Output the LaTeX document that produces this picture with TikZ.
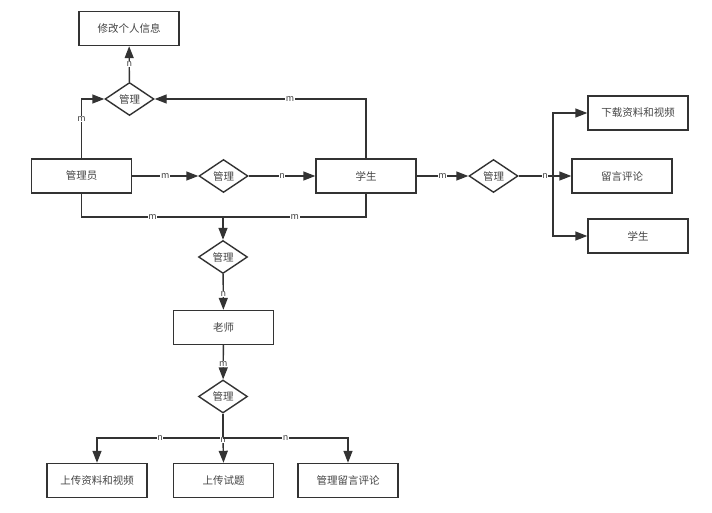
\documentclass[tikz,border=0pt]{standalone}
\usepackage{fontspec}
\setmainfont{Noto Sans CJK SC}
\usetikzlibrary{shapes.geometric,arrows.meta}
\definecolor{lc}{HTML}{333333}
\definecolor{tc}{HTML}{444444}
\begin{document}
\begin{tikzpicture}[x=1pt,y=-1pt,
  box/.style={draw=lc, line width=1.4pt, minimum width=100pt, minimum height=34pt, inner sep=0pt, font=\fontsize{10.5}{12}\selectfont, text=tc},
  rel/.style={draw=lc, diamond, line width=1.4pt, minimum width=49pt, minimum height=33pt, inner sep=0pt, font=\fontsize{10.5}{12}\selectfont, text=tc},
  conn/.style={draw=lc, line width=1.4pt, -{Triangle[length=12pt,width=9pt]}},
  plain/.style={draw=lc, line width=1.4pt},
  lab/.style={fill=white, inner sep=0.6pt, font=\fontsize{9}{10}\selectfont, text=tc}]
\useasboundingbox (0,0) rectangle (712,512);
% nodes
\node[box] (info) at (129,28.5) {修改个人信息};
\node[rel] (d1) at (129.5,99) {管理};
\node[box] (admin) at (81.5,176) {管理员};
\node[rel] (d2) at (223.5,176) {管理};
\node[box] (stu) at (366,176) {学生};
\node[rel] (d3) at (223,257) {管理};
\node[box] (teacher) at (223.5,327.5) {老师};
\node[rel] (d4) at (223,396.5) {管理};
\node[box] (up1) at (97,480.5) {上传资料和视频};
\node[box] (up2) at (223.5,480.5) {上传试题};
\node[box] (up3) at (348,480.5) {管理留言评论};
\node[rel] (d5) at (493.5,176) {管理};
\node[box] (dl) at (638,113) {下载资料和视频};
\node[box] (msg) at (622,176) {留言评论};
\node[box] (stu2) at (638,236) {学生};
% junctions
\coordinate (jL) at (81.5,217);
\coordinate (jR) at (366,217);
\coordinate (jM) at (223,217);
\coordinate (jB) at (223,438);
\coordinate (j5) at (553,176);
% connectors
\draw[conn] (d1) -- node[lab]{n} (info);
\draw[conn] (admin.north) |- node[lab,pos=0.33]{m} (d1.west);
\draw[conn] (stu.north) |- node[lab,pos=0.68]{m} (d1.east);
\draw[conn] (admin) -- node[lab]{m} (d2);
\draw[conn] (d2) -- node[lab]{n} (stu);
\draw[plain] (admin.south) -- (jL) -- node[lab,pos=0.25]{m} node[lab,pos=0.75]{m} (jR) -- (stu.south);
\draw[conn] (jM) -- (d3.north);
\draw[conn] (d3) -- node[lab,pos=0.55]{n} (teacher);
\draw[conn] (teacher) -- node[lab,pos=0.55]{m} (d4);
\draw[plain] (d4.south) -- (jB);
\draw[conn] (jB) -| node[lab,pos=0.25]{n} (up1.north);
\draw[conn] (jB) -- node[lab,pos=0.08]{n} (up2.north);
\draw[conn] (jB) -| node[lab,pos=0.25]{n} (up3.north);
\draw[conn] (stu) -- node[lab]{m} (d5);
\draw[conn] (d5) -- node[lab]{n} (msg);
\draw[conn] (j5) |- (dl.west);
\draw[conn] (j5) |- (stu2.west);
\end{tikzpicture}
\end{document}
